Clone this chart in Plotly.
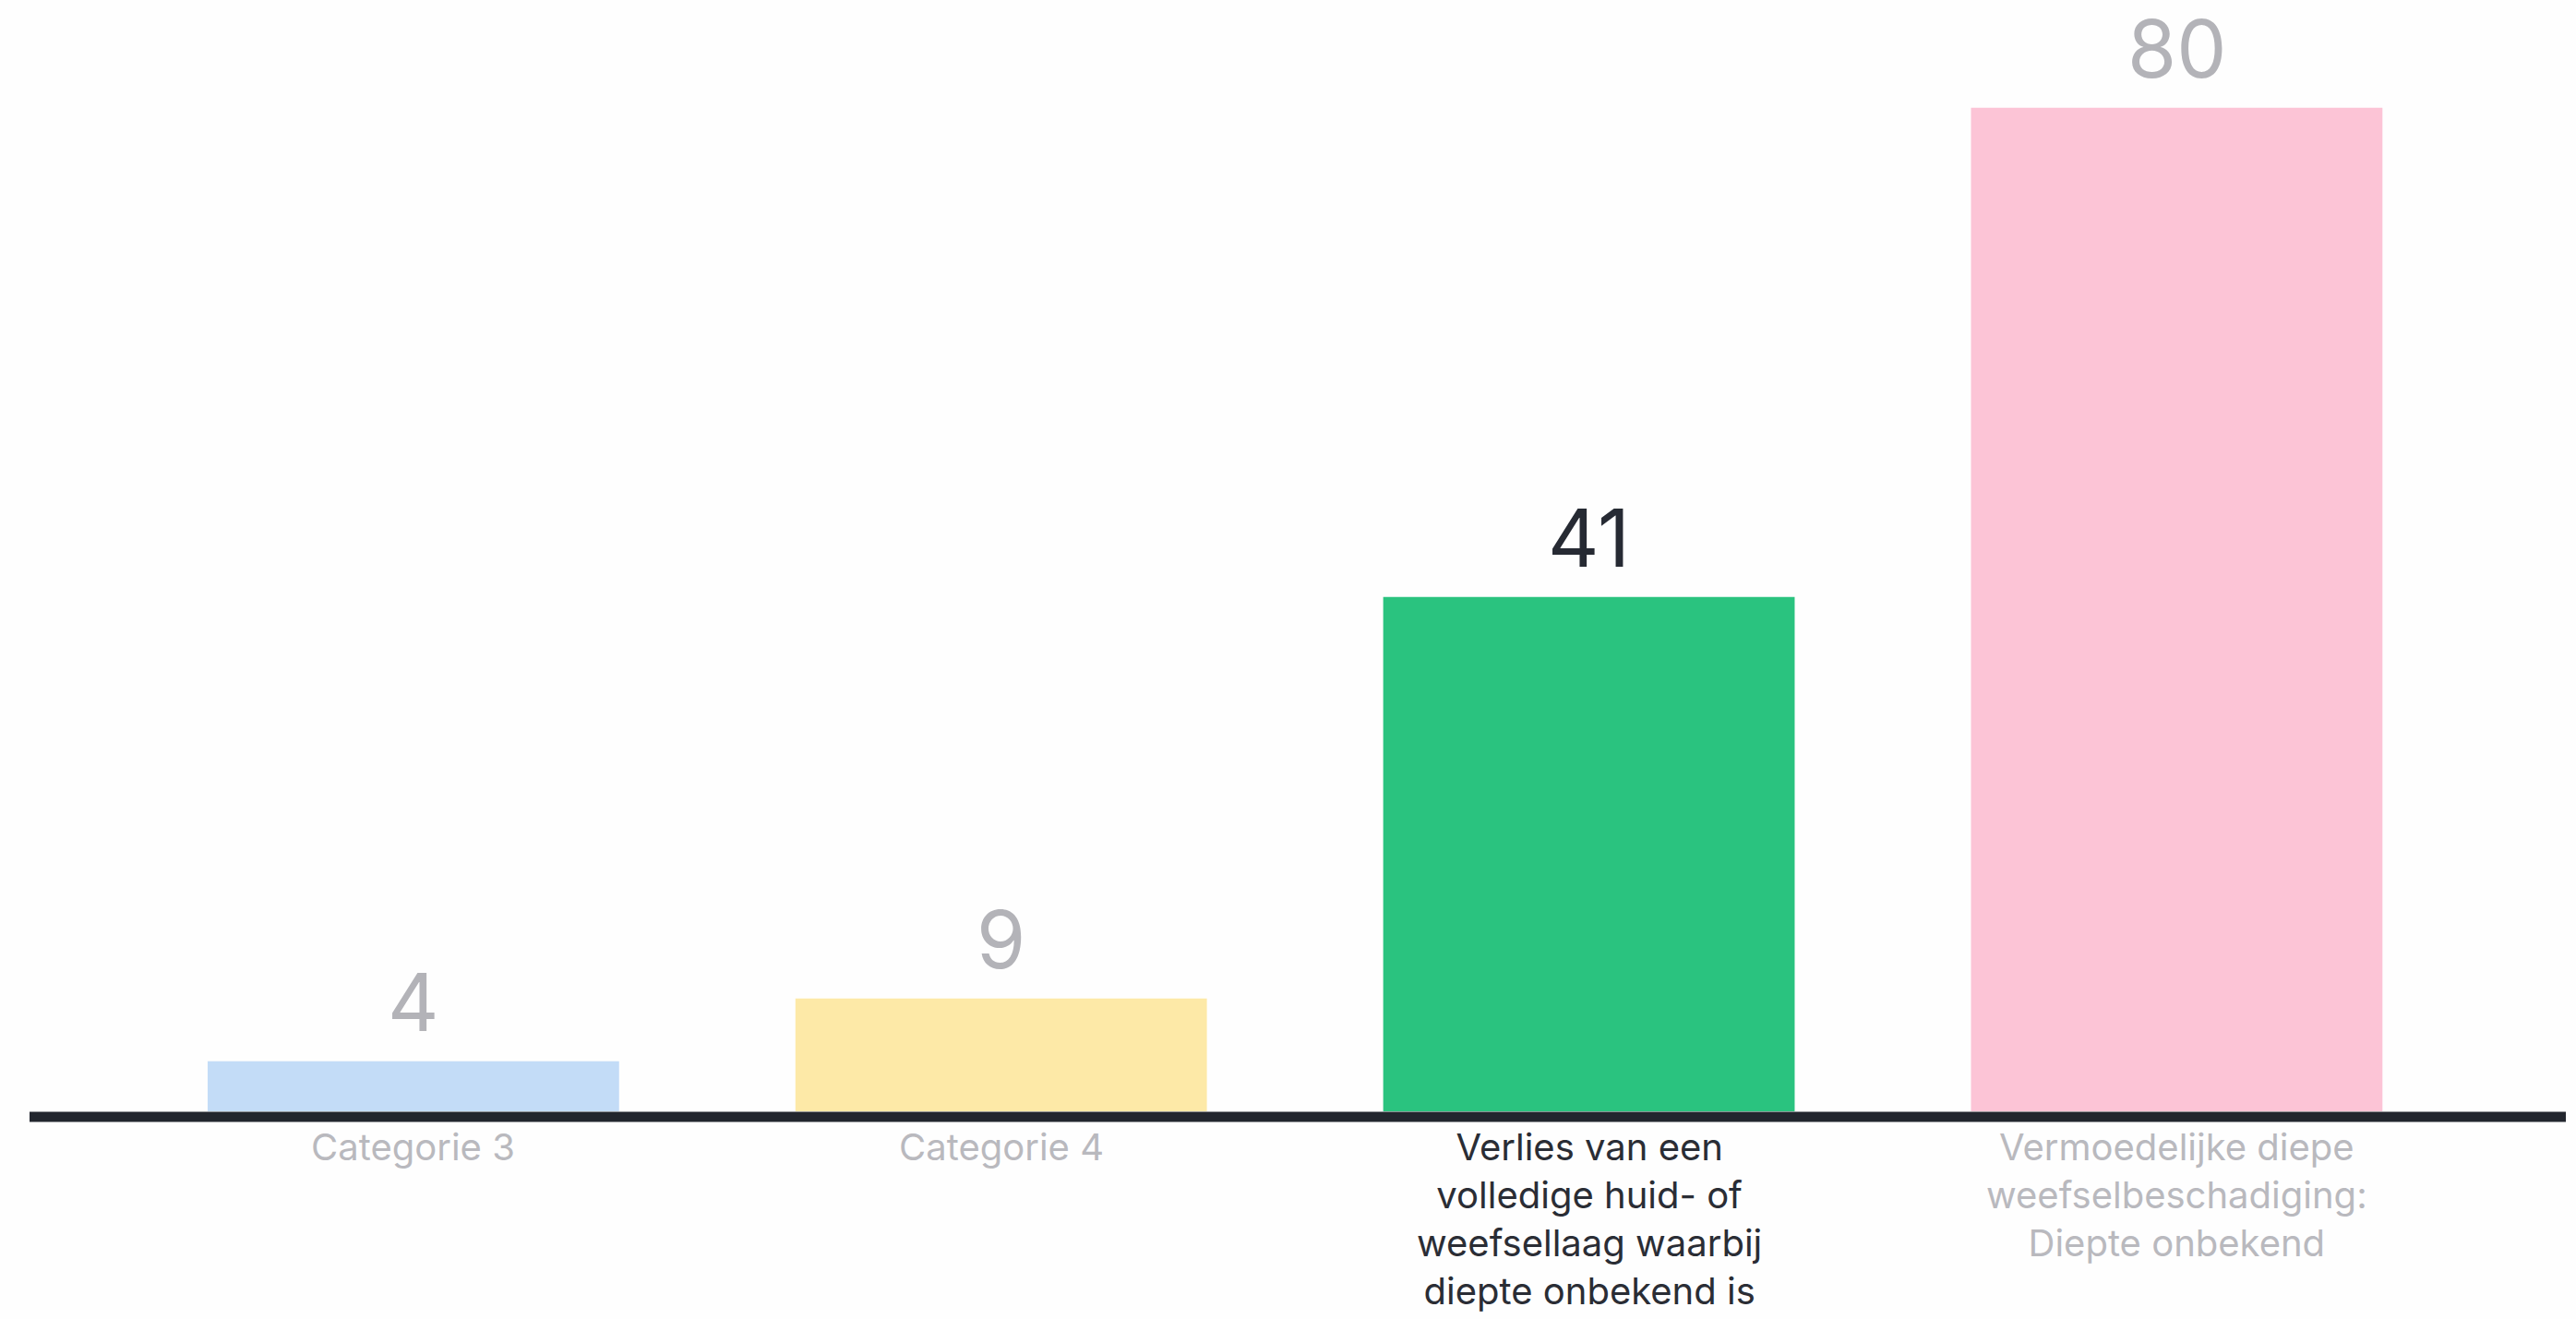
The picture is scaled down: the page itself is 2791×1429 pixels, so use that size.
import plotly.graph_objects as go

# Data
categories = [
    "Categorie 3",
    "Categorie 4",
    "Verlies van een<br>volledige huid- of<br>weefsellaag waarbij<br>diepte onbekend is",
    "Vermoedelijke diepe<br>weefselbeschadiging:<br>Diepte onbekend",
]
values = [4, 9, 41, 80]
bar_colors = ["#c3dcf7", "#fde9a7", "#2ac37f", "#fcc4d6"]
label_colors = ["#b3b3b8", "#b3b3b8", "#262a33", "#b3b3b8"]
category_colors = ["#b9b9be", "#b9b9be", "#2a2d35", "#b9b9be"]

FONT = "Inter, Lato, sans-serif"
W, H = 2791, 1429
x_pos = list(range(len(categories)))

fig = go.Figure()
fig.add_trace(go.Bar(
    x=x_pos,
    y=values,
    marker=dict(color=bar_colors, line=dict(width=0)),
    width=0.7,
    hoverinfo="skip",
))

annotations = []
for xi, v, c in zip(x_pos, values, label_colors):
    annotations.append(dict(
        x=xi, y=v, xref="x", yref="y",
        text=str(v), showarrow=False,
        yanchor="bottom", yshift=10,
        font=dict(family=FONT, size=86, color=c),
    ))
for xi, cat, c in zip(x_pos, categories, category_colors):
    annotations.append(dict(
        x=xi, y=0, xref="x", yref="y",
        text=cat, showarrow=False,
        yanchor="top", yshift=-12, align="center",
        font=dict(family=FONT, size=40, color=c),
    ))

# Baseline, sitting just under the bars' foot
shapes = [dict(
    type="line", xref="paper", yref="paper",
    x0=0, x1=1, y0=-0.005, y1=-0.005,
    line=dict(color="#22262e", width=11),
    layer="above",
)]

fig.update_layout(
    width=W, height=H,
    margin=dict(l=32, r=11, t=8, b=225),
    paper_bgcolor="#fefefe",
    plot_bgcolor="#fefefe",
    showlegend=False,
    xaxis=dict(range=[-0.653, 3.662], visible=False, fixedrange=True),
    yaxis=dict(range=[0, 88], visible=False, fixedrange=True),
    annotations=annotations,
    shapes=shapes,
)

fig.write_html("out.html")
